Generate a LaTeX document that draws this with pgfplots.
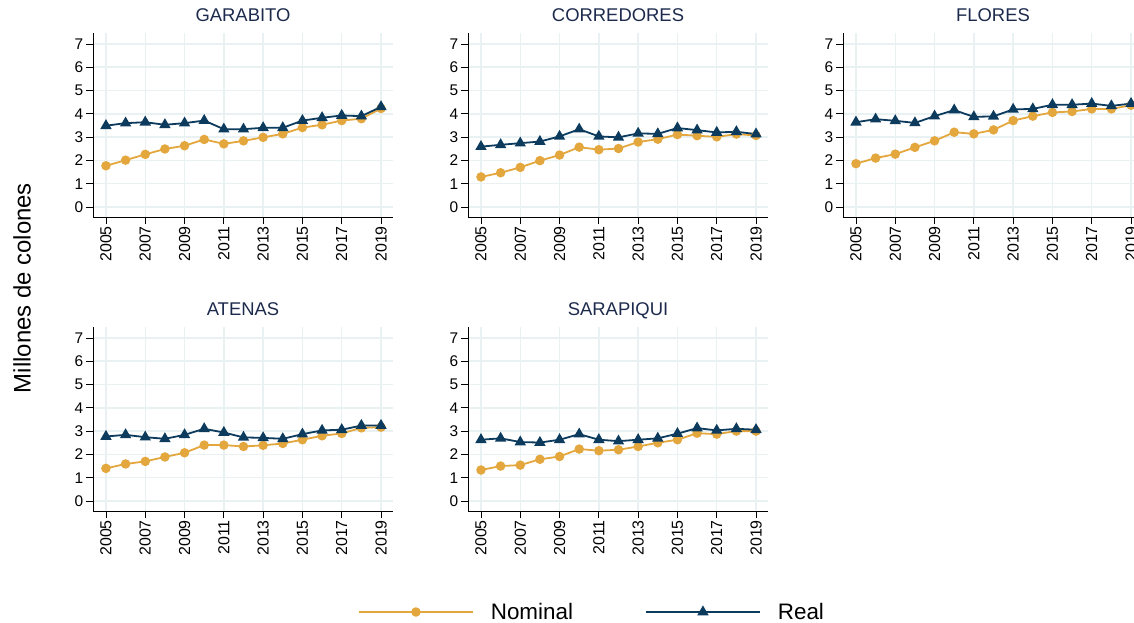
\documentclass[border=0pt]{standalone}
\usepackage{pgfplots}
\usepackage{pgfplotstable}
\pgfplotsset{compat=1.18}
\usepackage{fontspec}
\setmainfont{Liberation Sans}

\definecolor{nomc}{RGB}{227,167,62}
\definecolor{realc}{RGB}{12,59,94}
\definecolor{gridc}{RGB}{233,241,243}
\definecolor{titlec}{RGB}{28,42,76}

\pgfplotstableread{
year nominal real
2005 1.77 3.49
2006 2.01 3.60
2007 2.26 3.64
2008 2.49 3.53
2009 2.63 3.60
2010 2.90 3.71
2011 2.71 3.34
2012 2.84 3.34
2013 2.99 3.40
2014 3.14 3.40
2015 3.41 3.71
2016 3.53 3.83
2017 3.71 3.93
2018 3.79 3.90
2019 4.23 4.30
}\garabito

\pgfplotstableread{
year nominal real
2005 1.29 2.59
2006 1.47 2.67
2007 1.70 2.74
2008 1.99 2.81
2009 2.23 3.03
2010 2.57 3.34
2011 2.46 3.03
2012 2.51 2.99
2013 2.79 3.16
2014 2.91 3.14
2015 3.11 3.39
2016 3.06 3.30
2017 3.01 3.20
2018 3.13 3.23
2019 3.07 3.13
}\corredores

\pgfplotstableread{
year nominal real
2005 1.86 3.64
2006 2.10 3.77
2007 2.27 3.70
2008 2.56 3.61
2009 2.84 3.90
2010 3.21 4.16
2011 3.14 3.87
2012 3.31 3.89
2013 3.71 4.19
2014 3.90 4.21
2015 4.06 4.39
2016 4.10 4.39
2017 4.21 4.44
2018 4.21 4.34
2019 4.37 4.44
}\flores

\pgfplotstableread{
year nominal real
2005 1.40 2.77
2006 1.59 2.84
2007 1.70 2.74
2008 1.89 2.67
2009 2.07 2.84
2010 2.40 3.10
2011 2.40 2.94
2012 2.34 2.73
2013 2.39 2.71
2014 2.47 2.67
2015 2.63 2.87
2016 2.80 3.03
2017 2.90 3.06
2018 3.14 3.24
2019 3.17 3.24
}\atenas

\pgfplotstableread{
year nominal real
2005 1.33 2.63
2006 1.50 2.69
2007 1.54 2.53
2008 1.79 2.51
2009 1.91 2.63
2010 2.23 2.87
2011 2.16 2.63
2012 2.20 2.57
2013 2.34 2.63
2014 2.50 2.69
2015 2.63 2.89
2016 2.91 3.13
2017 2.87 3.03
2018 3.00 3.10
2019 3.00 3.06
}\sarapiqui

\pgfplotsset{
  panel/.style={
    scale only axis, width=300bp, height=184bp,
    anchor=south west,
    xmin=2004.34, xmax=2019.61, ymin=-0.43, ymax=7.47,
    axis x line=bottom, axis y line=left,
    axis line style={-, line width=0.9bp, black},
    xtick={2005,2007,...,2019}, ytick={0,1,...,7},
    tick align=outside, major tick length=7bp,
    tick style={line width=0.9bp, black},
    /pgf/number format/1000 sep={},
    /pgf/number format/assume math mode=true,
    xticklabel style={rotate=90, anchor=east, font=\fontsize{16}{16}\selectfont, inner sep=2bp},
    yticklabel style={font=\fontsize{15.5}{16}\selectfont, inner sep=2.5bp},
    grid=major, major grid style={line width=1.5bp, gridc},
    title style={at={(0.5,1)}, anchor=base, yshift=6bp, color=titlec, font=\fontsize{18.5}{19}\selectfont},
  },
  nomstyle/.style={color=nomc, line width=1.8bp, mark=*, mark size=3.8bp, mark options={solid, fill=nomc, draw=nomc}},
  realstyle/.style={color=realc, line width=1.8bp, mark=triangle*, mark size=4.8bp, mark options={solid, fill=realc, draw=realc}},
}

\newcommand{\panel}[4]{%
  \begin{axis}[panel, at={(#1bp,-#2bp)}, title={#3}]
    \addplot[nomstyle] table[x=year, y=nominal] {#4};
    \addplot[realstyle] table[x=year, y=real] {#4};
  \end{axis}}

\begin{document}
\begin{tikzpicture}
\useasboundingbox (0,0) rectangle (1134bp,-623bp);
\panel{93}{217}{GARABITO}{\garabito}
\panel{468}{217}{CORREDORES}{\corredores}
\panel{843}{217}{FLORES}{\flores}
\panel{93}{511}{ATENAS}{\atenas}
\panel{468}{511}{SARAPIQUI}{\sarapiqui}

\node[rotate=90, font=\fontsize{24}{25}\selectfont, anchor=center] at (22bp,-288bp) {Millones de colones};

\begin{axis}[hide axis, scale only axis, width=10bp, height=10bp,
  at={(592bp,-612bp)}, anchor=center, xmin=0, xmax=1, ymin=0, ymax=1,
  legend columns=2,
  legend style={at={(0.5,0.5)}, anchor=center, draw=none, fill=none,
    font=\fontsize{22.5}{23}\selectfont,
    /tikz/every odd column/.append style={column sep=15bp},
    /tikz/every even column/.append style={column sep=70bp}},
  legend image code/.code={\draw[mark repeat=2, mark phase=2, #1] plot coordinates {(0bp,0bp) (57bp,0bp) (114bp,0bp)};},
]
\addlegendimage{nomstyle}\addlegendentry{Nominal}
\addlegendimage{realstyle}\addlegendentry{Real}
\end{axis}
\end{tikzpicture}
\end{document}
